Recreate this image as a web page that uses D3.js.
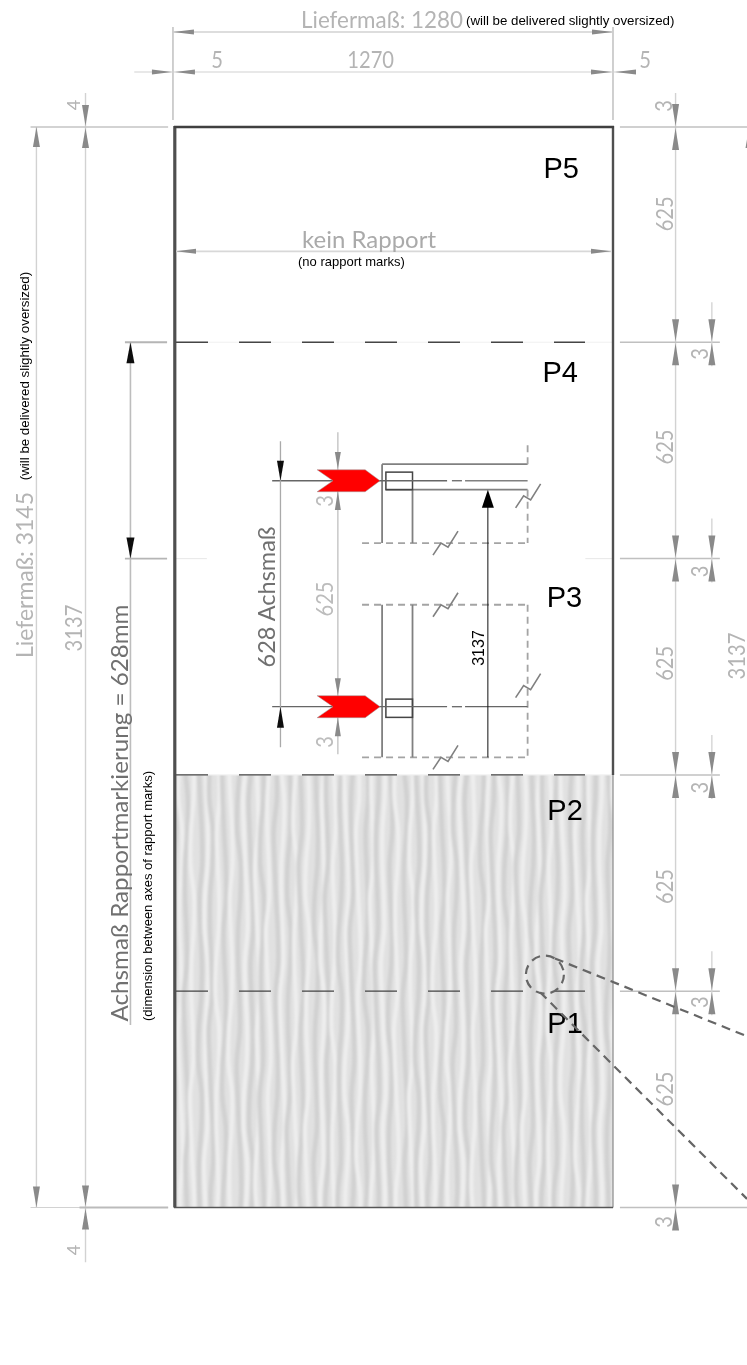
<!DOCTYPE html>
<html>
<head>
<meta charset="utf-8">
<script src="https://cdn.jsdelivr.net/npm/d3@7/dist/d3.min.js"></script>
<style>
  html, body { margin: 0; padding: 0; background: #fff; }
  svg { display: block; }
</style>
</head>
<body>
<div id="chart"></div>
<script>
// all drawing values in mm
const panelWidth = 1270;
const panelHeight = 3137;
const rapportLevels = [0, 628, 1256, 1884, 2512, 3137];
const dashedLevels = [628, 1256, 2512];
const panelLabels = ["P1", "P2", "P3", "P4", "P5"];
const panelLabelX = [1080, 1080, 1078, 1066, 1069];
const panelLabelY = [506, 1125, 1743, 2398, 2990];
const segmentLabels = ["625", "625", "625", "625", "625"];
const segmentLabelY = [344, 932, 1580, 2208, 2885];
const gapLabelY = [596, 1219, 1847, 2478];
const outerGapLabelY = [-42, 3198];
const widthLabels = ["5", "1270", "5"];
const widthLabelX = [125, 569, 1363];

// the small rapport detail in the middle of the sheet
const detailMarkY = [2110, 1454];
const detailBoxY = [[2135, 2084], [1476, 1423]];
const detailBreaks = [[784, 1929], [784, 1750], [784, 1307], [1023, 2066], [1023, 1515]];
const detailDashedH = [1929, 1750, 1307];
const detailSolidV = [[602, 2158, 1929], [690, 2084, 1929], [602, 1750, 1307], [690, 1750, 1307]];
const detailDashedV = [[1023, 2213, 2158], [1023, 2084, 1929], [1023, 1750, 1307]];
const detailSolidH = [[602, 1023, 2158], [613, 1023, 2084]];

// wobble and spacing of the texture stripes
const waveOffsets = [0, 1.5, -1, 2, -1.5, 0.5, 2.5, -2, 1, -0.5, 2, -2.5, 0.5, 1.5, -1.5, 2, -1];
const stripeGaps = [12, 14, 11, 13, 15, 12, 11, 14, 13, 12, 15, 11, 13];

const width = 747, height = 1365;
const X = d3.scaleLinear().domain([0, panelWidth]).range([174, 613]);
const Y = d3.scaleLinear().domain([0, panelHeight]).range([1207.5, 127]);

const svg = d3.select("#chart").append("svg").attr("width", width).attr("height", height);
const defs = svg.append("defs");
defs.append("filter").attr("id", "soft").append("feGaussianBlur").attr("stdDeviation", 0.45);
defs.append("filter").attr("id", "softer").attr("x", "-5%").attr("width", "110%")
  .append("feGaussianBlur").attr("stdDeviation", 1.3);
defs.append("clipPath").attr("id", "panelClip").append("rect")
  .attr("x", X(0)).attr("y", Y(1256)).attr("width", X(panelWidth) - X(0)).attr("height", Y(0) - Y(1256));

const grey = "#c4c4c4", greyText = "#b4b4b4", arrowGrey = "#8a8a8a", thin = "#d2d2d2";
const drawFont = "Lato, 'Open Sans', sans-serif";
const noteFont = "'Liberation Sans', Arial, sans-serif";
const digitWidth = 11.7;

// texture of the two lower panels
const tex = svg.append("g").attr("clip-path", "url(#panelClip)");
tex.append("rect").attr("x", X(0)).attr("y", Y(1256)).attr("width", X(panelWidth) - X(0))
  .attr("height", Y(0) - Y(1256)).attr("fill", "#e1e1e1");
const stripes = tex.append("g").attr("filter", "url(#softer)");
const waveLine = d3.line().x(d => d[0]).y(d => d[1]).curve(d3.curveCatmullRom);
function stripe(x0, shift, color, w) {
  const pts = d3.range(0, 15).map(k => [
    x0 + waveOffsets[(k * 3 + shift) % waveOffsets.length] * 0.9,
    Y(1256) - 10 + k * 33
  ]);
  stripes.append("path").attr("d", waveLine(pts)).attr("fill", "none")
    .attr("stroke", color).attr("stroke-width", w);
}
let stripeX = X(0);
d3.range(0, 36).forEach(i => {
  stripe(stripeX, i * 7, "#d1d1d1", 4.6);
  stripe(stripeX + 6.3, i * 11 + 4, "#eeeeee", 4.2);
  stripeX += stripeGaps[i % stripeGaps.length];
});

const g = svg.append("g").attr("filter", "url(#soft)");

function hLine(x1, x2, y, color, w, dash) {
  return g.append("line").attr("x1", x1).attr("x2", x2).attr("y1", y).attr("y2", y)
    .attr("stroke", color).attr("stroke-width", w).attr("stroke-dasharray", dash || null);
}
function vLine(x, y1, y2, color, w, dash) {
  return g.append("line").attr("x1", x).attr("x2", x).attr("y1", y1).attr("y2", y2)
    .attr("stroke", color).attr("stroke-width", w).attr("stroke-dasharray", dash || null);
}
// tapered arrow head with the tip at (x, y), dx/dy = direction the tip points
function arrow(x, y, dx, dy, len, wid, color) {
  const p = d3.path();
  p.moveTo(x, y);
  p.lineTo(x - dx * len + dy * wid / 2, y - dy * len + dx * wid / 2);
  p.lineTo(x - dx * len - dy * wid / 2, y - dy * len - dx * wid / 2);
  p.closePath();
  g.append("path").attr("d", p.toString()).attr("fill", color);
}
function label(parent, x, y, str, size, color, font, anchor, rotate, fit) {
  const t = parent.append("text").attr("font-family", font).attr("font-size", size)
    .attr("fill", color).attr("text-anchor", anchor || "middle").text(str);
  if (rotate) t.attr("transform", "translate(" + x + "," + y + ") rotate(-90)");
  else t.attr("x", x).attr("y", y);
  if (fit) t.attr("textLength", fit).attr("lengthAdjust", "spacingAndGlyphs");
  return t;
}
// the narrow digits of the dimension lines
function digits(parent, x, y, str, rotate, color) {
  return label(parent, x, y, str, 23, color || greyText, drawFont, "middle", rotate, str.length * digitWidth);
}

// panel lines
dashedLevels.forEach(l => {
  if (l !== 628) hLine(X(0) + 2, X(panelWidth), Y(l), "#f0f0f0", 1.2);
  hLine(X(0) + 2, X(panelWidth) - 28, Y(l), "#444", 1.3, "32 31");
});
hLine(X(5), X(95), Y(1884), "#eaeaea", 1.2);
hLine(X(1190), X(panelWidth), Y(1884), "#eaeaea", 1.2);

vLine(X(panelWidth), Y(1256), Y(0), "#888", 1.2);
hLine(X(0), X(panelWidth), Y(0), "#555", 1.4);
vLine(X(0) + 0.8, Y(panelHeight) - 1, Y(0), "#505050", 3.2);
vLine(X(panelWidth), Y(panelHeight) - 1, Y(1256), "#505050", 2.4);
hLine(X(0), X(panelWidth) + 1, Y(panelHeight), "#404040", 2.6);

// top dimensions
const topDimY = 32, midDimY = 72;
vLine(X(-3), 27, 120, grey, 1.6);
vLine(X(panelWidth), 27, 120, grey, 1.6);
hLine(X(-3), X(panelWidth), topDimY, thin, 1.4);
arrow(X(-3), topDimY, -1, 0, 21, 5, arrowGrey);
arrow(X(panelWidth), topDimY, 1, 0, 21, 5, arrowGrey);
hLine(X(-115), X(1305), midDimY, thin, 1.2);
arrow(X(-3) - 1, midDimY, 1, 0, 20, 5, arrowGrey);
arrow(X(-3) + 2, midDimY, -1, 0, 20, 5, arrowGrey);
arrow(X(panelWidth) - 1, midDimY, 1, 0, 21, 5, arrowGrey);
arrow(X(panelWidth) + 2, midDimY, -1, 0, 21, 5, arrowGrey);
widthLabels.forEach((s, i) => digits(g, X(widthLabelX[i]), 68, s, false));

// kein Rapport
const noRapportY = Y(2776);
hLine(X(0) + 2, X(panelWidth) - 2, noRapportY, "#d8d8d8", 1.6);
arrow(X(0) + 2, noRapportY, -1, 0, 20, 5, arrowGrey);
arrow(X(panelWidth) - 2, noRapportY, 1, 0, 20, 5, arrowGrey);

// left dimensions
vLine(X(-398), Y(panelHeight), Y(0), thin, 1.4);
vLine(X(-256), Y(3236), Y(-159), thin, 1.4);
hLine(X(-415), X(-17), Y(panelHeight), grey, 1.4);
hLine(X(-415), X(-17), Y(0), thin, 1.2);
hLine(X(-256) - 6, X(-17), Y(0), "#bbb", 1.8);
arrow(X(-398), Y(panelHeight), 0, -1, 20, 7, arrowGrey);
arrow(X(-398), Y(0), 0, 1, 21, 7, arrowGrey);
arrow(X(-256), Y(panelHeight) - 1, 0, 1, 21, 7, arrowGrey);
arrow(X(-256), Y(panelHeight) + 1, 0, -1, 20, 7, arrowGrey);
arrow(X(-256), Y(0) - 1, 0, 1, 21, 7, arrowGrey);
arrow(X(-256), Y(0) + 1, 0, -1, 21, 7, arrowGrey);
label(g, 80, 105, "4", 18, greyText, drawFont, "middle", true);
label(g, 80, 1250, "4", 18, greyText, drawFont, "middle", true);

// rapport axis dimension
vLine(X(-126), Y(2512), Y(530), "#bdbdbd", 1.6);
[2512, 1884].forEach(l => hLine(X(-142), X(-20), Y(l), "#b5b5b5", 1.8));
arrow(X(-126), Y(2512), 0, -1, 21, 8, "#111");
arrow(X(-126), Y(1884), 0, 1, 21, 8, "#111");

// right dimensions
const rightA = X(1451), rightB = X(1556);
vLine(rightA, Y(3236), Y(-62), thin, 1.4);
rapportLevels.forEach(l => {
  const edge = (l === 0 || l === panelHeight);
  hLine(X(1290), edge ? width : rightB + 8, Y(l), "#c0c0c0", 1.5);
  arrow(rightA, Y(l) - 1, 0, 1, 22, 7, arrowGrey);
  arrow(rightA, Y(l) + 1, 0, -1, 22, 7, arrowGrey);
  if (!edge) {
    vLine(rightB, Y(l) - 40, Y(l) + 24, thin, 1.3);
    arrow(rightB, Y(l) - 1, 0, 1, 22, 7, arrowGrey);
    arrow(rightB, Y(l) + 1, 0, -1, 22, 7, arrowGrey);
  }
});
segmentLabels.forEach((s, i) => digits(g, rightA - 3, Y(segmentLabelY[i]), s, true));
gapLabelY.forEach(v => digits(g, rightB - 4, Y(v), "3", true));
outerGapLabelY.forEach(v => digits(g, rightA - 4, Y(v), "3", true));
digits(g, 745, 656, "3137", true);
arrow(749, Y(panelHeight) + 1, 0, -1, 20, 7, arrowGrey);

// rapport detail
const detailGrey = "#808080", detailDash = "7 5";
detailDashedH.forEach(v => hLine(X(544), X(1023), Y(v), "#a4a4a4", 1.8, detailDash));
detailSolidH.forEach(d => hLine(X(d[0]), X(d[1]), Y(d[2]), detailGrey, 1.8));
detailSolidV.forEach(d => vLine(X(d[0]), Y(d[1]), Y(d[2]), detailGrey, 1.8));
detailDashedV.forEach(d => vLine(X(d[0]), Y(d[1]), Y(d[2]), "#a4a4a4", 1.8, detailDash));
detailBoxY.forEach(b => g.append("rect").attr("x", X(613)).attr("y", Y(b[0]))
  .attr("width", X(690) - X(613)).attr("height", Y(b[1]) - Y(b[0]))
  .attr("fill", "none").attr("stroke", "#444").attr("stroke-width", 1.5));

const breakLine = d3.line();
detailBreaks.forEach(b => {
  const cx = X(b[0]), cy = Y(b[1]);
  g.append("path").attr("fill", "none").attr("stroke", detailGrey).attr("stroke-width", 1.6)
    .attr("d", breakLine([[cx - 12, cy + 12], [cx - 4, cy], [cx + 3, cy + 4], [cx + 13, cy - 12]]));
});

// axis lines through the marks
detailMarkY.forEach((v, i) => {
  hLine(X(284), X(790), Y(v), "#666", 1.3);
  hLine(X(804), X(833), Y(v), "#666", 1.3);
  hLine(X(842), X(1023), Y(v), i === 0 ? "#808080" : "#666", 1.3);
});

// 628 Achsmass dimension
vLine(X(308), Y(2225), Y(1336), "#aaa", 1.3);
arrow(X(308), Y(2110), 0, 1, 20, 7, "#111");
arrow(X(308), Y(1454), 0, -1, 21, 7, "#111");

// 625 + 3 dimension behind the chevrons
vLine(X(474), Y(2251), Y(1316), "#c8c8c8", 1.5);
arrow(X(474), Y(2144), 0, 1, 17, 6, arrowGrey);
arrow(X(474), Y(2080), 0, -1, 19, 6, arrowGrey);
arrow(X(474), Y(1487), 0, 1, 17, 6, arrowGrey);
arrow(X(474), Y(1423), 0, -1, 19, 6, arrowGrey);
digits(g, 333, 599, "625", true, "#bcbcbc");
digits(g, 333, 501, "3", true, "#bcbcbc");
digits(g, 333, 742, "3", true, "#bcbcbc");

// red chevrons
const chevron = d3.line();
detailMarkY.forEach(v => {
  const y = Y(v), half = 11;
  g.append("path").attr("fill", "#ff0000").attr("stroke", "#999").attr("stroke-width", 0.5)
    .attr("d", chevron([[X(414), y - half], [X(553), y - half], [X(596), y], [X(553), y + half],
      [X(414), y + half], [X(460), y]]) + "Z");
});

// 3137 arrow
const texts = svg.append("g");
texts.append("line").attr("x1", X(908)).attr("x2", X(908)).attr("y1", Y(1307)).attr("y2", Y(2050))
  .attr("stroke", "#111").attr("stroke-width", 1);
texts.append("path").attr("fill", "#000").attr("d", chevron([
  [X(908), Y(2084)], [X(908) + 6, Y(2084) + 18], [X(908) - 6, Y(2084) + 18]]) + "Z");
label(texts, 484, 648, "3137", 16, "#000", noteFont, "middle", true);

// grey drawing text
label(g, 382, 28, "Liefermaß: 1280", 23, greyText, drawFont, "middle", false, 162);
label(g, 369, 248, "kein Rapport", 24, "#aaa", drawFont, "middle", false, 134);
label(g, 33, 575, "Liefermaß: 3145", 24, greyText, drawFont, "middle", true, 166);
digits(g, 82, 628, "3137", true);
label(g, 275, 597, "628 Achsmaß", 24, "#707070", drawFont, "middle", true, 141);
label(g, 128, 813, "Achsmaß Rapportmarkierung = 628mm", 24, "#707070", drawFont, "middle", true, 417);

// black translations
label(texts, 466, 25, "(will be delivered slightly oversized)", 13.3, "#000", noteFont, "start");
label(texts, 298, 266, "(no rapport marks)", 13, "#000", noteFont, "start");
label(texts, 29, 376, "(will be delivered slightly oversized)", 13.3, "#000", noteFont, "middle", true);
label(texts, 152, 896, "(dimension between axes of rapport marks)", 13, "#000", noteFont, "middle", true);

panelLabels.forEach((s, i) => label(texts, X(panelLabelX[i]), Y(panelLabelY[i]), s, 29, "#000", noteFont, "start"));

// zoom circle and its lines
const zoomLines = svg.append("g").attr("fill", "none").attr("stroke", "#666").attr("stroke-width", 2.2)
  .attr("stroke-dasharray", "9 6");
zoomLines.append("circle").attr("cx", X(1073)).attr("cy", Y(676)).attr("r", 19);
zoomLines.append("line").attr("x1", X(1102)).attr("y1", Y(723)).attr("x2", width).attr("y2", Y(497));
zoomLines.append("line").attr("x1", X(1059)).attr("y1", Y(625)).attr("x2", width).attr("y2", Y(25));
</script>
</body>
</html>
